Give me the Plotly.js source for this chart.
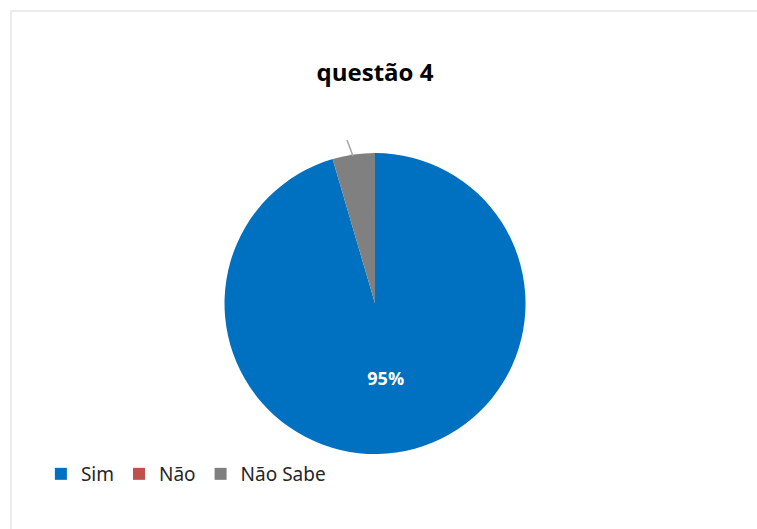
<!DOCTYPE html>
<html>
<head>
<meta charset="utf-8">
<script src="https://cdn.plot.ly/plotly-3.0.1.min.js"></script>
<style>html,body{margin:0;padding:0;background:#fff;}#chart{width:757px;height:529px;}</style>
</head>
<body>
<div id="chart"></div>
<script>
const categories = ['Sim', 'Não', 'Não Sabe'];
const values = [21, 0, 1];
const colors = ['#0070C0', '#C0504D', '#808080'];
const labelTemplates = ['<b>%{percent:.0%}</b>', '', ''];
const chartTitle = 'questão 4';

const trace = {
  type: 'pie',
  labels: categories,
  values: values,
  sort: false,
  direction: 'clockwise',
  rotation: 0,
  marker: {colors: colors, line: {width: 0}},
  texttemplate: labelTemplates,
  textposition: 'inside',
  insidetextorientation: 'horizontal',
  insidetextfont: {color: '#ffffff', size: 18, family: 'Open Sans'},
  hoverinfo: 'label+percent',
  domain: {x: [0.2959, 0.6949], y: [0.1418, 0.7108]},
  showlegend: true
};

const layout = {
  width: 757, height: 529,
  margin: {l: 0, r: 0, t: 0, b: 0},
  paper_bgcolor: '#ffffff',
  font: {family: 'Open Sans', color: '#000000'},
  title: {text: '<b>' + chartTitle + '</b>', x: 0.4954, xanchor: 'center', y: 0.862, yanchor: 'middle', font: {size: 24, family: 'Open Sans', color: '#000'}},
  legend: {orientation: 'h', x: 0.054, xanchor: 'left', y: 0.104, yanchor: 'middle', font: {size: 19, family: 'Noto Sans', color: '#262626'}, itemwidth: 30, traceorder: 'normal'},
  shapes: [
    {type: 'line', xref: 'paper', yref: 'paper', x0: 0.01453, x1: 0.01453, y0: -0.01, y1: 0.9792, line: {color: '#d9d9d9', width: 1}},
    {type: 'line', xref: 'paper', yref: 'paper', x0: 0.01453, x1: 1.01, y0: 0.9792, y1: 0.9792, line: {color: '#d9d9d9', width: 1}},
    {type: 'line', xref: 'paper', yref: 'paper', x0: 0.4584, x1: 0.4663, y0: 0.7353, y1: 0.7051, line: {color: '#a6a6a6', width: 1.5}}
  ]
};

Plotly.newPlot('chart', [trace], layout, {displayModeBar: false, staticPlot: true});
</script>
</body>
</html>
